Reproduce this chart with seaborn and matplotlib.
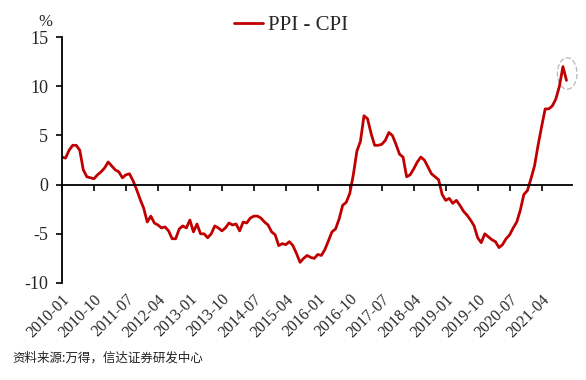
import pandas as pd
import matplotlib.pyplot as plt
import seaborn as sns
from matplotlib.patches import Ellipse

# PPI minus CPI, monthly, 2010-01 .. 2021-11 (percentage points)
spread_2010 = [2.8, 2.7, 3.5, 4.0, 4.0, 3.5, 1.5, 0.8, 0.7, 0.6, 1.0, 1.3]
spread_2011 = [1.7, 2.3, 1.9, 1.5, 1.3, 0.7, 1.0, 1.1, 0.4, -0.5, -1.5, -2.4]
spread_2012 = [-3.8, -3.2, -3.9, -4.1, -4.4, -4.3, -4.7, -5.5, -5.5, -4.5, -4.2, -4.4]
spread_2013 = [-3.6, -4.8, -4.0, -5.0, -5.0, -5.4, -5.0, -4.2, -4.4, -4.7, -4.4, -3.9]
spread_2014 = [-4.1, -4.0, -4.7, -3.8, -3.9, -3.4, -3.2, -3.2, -3.4, -3.8, -4.1, -4.8]
spread_2015 = [-5.1, -6.2, -6.0, -6.1, -5.8, -6.2, -7.0, -7.9, -7.5, -7.2, -7.4, -7.5]
spread_2016 = [-7.1, -7.2, -6.6, -5.7, -4.8, -4.5, -3.5, -2.1, -1.8, -0.9, 1.0, 3.4]
spread_2017 = [4.4, 7.0, 6.7, 5.2, 4.0, 4.0, 4.1, 4.5, 5.3, 5.0, 4.1, 3.1]
spread_2018 = [2.8, 0.8, 1.0, 1.6, 2.3, 2.8, 2.5, 1.8, 1.1, 0.8, 0.5, -1.0]
spread_2019 = [-1.6, -1.4, -1.9, -1.6, -2.1, -2.7, -3.1, -3.6, -4.2, -5.4, -5.9, -5.0]
spread_2020 = [-5.3, -5.6, -5.8, -6.4, -6.1, -5.5, -5.1, -4.4, -3.8, -2.6, -1.0, -0.6]
spread_2021 = [0.6, 1.9, 4.0, 5.9, 7.7, 7.7, 8.0, 8.7, 10.0, 12.0, 10.6]

y_ticks = [-10, -5, 0, 5, 10, 15]
tick_step = 9  # one label every 9 months

spread = (spread_2010 + spread_2011 + spread_2012 + spread_2013 + spread_2014 + spread_2015
          + spread_2016 + spread_2017 + spread_2018 + spread_2019 + spread_2020 + spread_2021)
months = pd.date_range('2010-01-01', periods=len(spread), freq='MS').strftime('%Y-%m')
df = pd.DataFrame({'idx': range(len(spread)), 'month': months, 'spread': spread})

sns.set_style('white')
plt.rcParams['font.family'] = ['Liberation Serif', 'Noto Sans CJK SC', 'DejaVu Sans']

fig = plt.figure(figsize=(5.86, 3.8), dpi=100)
ax = fig.add_axes([0.1058, 0.2553, 0.870, 0.647])

sns.lineplot(data=df, x='idx', y='spread', color='#C00000', linewidth=2.0,
             label='PPI - CPI', ax=ax, legend=False)

# dashed circle around the latest peak
peak_i = df['spread'].idxmax()
ax.add_patch(Ellipse((peak_i + 1.2, 11.3), 5.5, 3.2, fill=False, clip_on=False,
                     edgecolor='#BDBDBD', linestyle='--', linewidth=1.0))

ax.set_xlim(0, 143.5)
ax.set_ylim(-10, 15)
ax.set_yticks(y_ticks)
ax.set_yticklabels([str(v) for v in y_ticks], fontsize=13)
ax.tick_params(axis='y', direction='out', length=4, width=1.2, color='black', pad=6, left=True)

# x axis line sits at zero, labels go along the bottom
tick_pos = df['idx'][::tick_step].tolist()
tick_lab = df['month'][::tick_step].tolist()
ax.spines['bottom'].set_position(('data', 0))
ax.spines['bottom'].set_linewidth(1.3)
ax.spines['bottom'].set_color('black')
ax.spines['left'].set_linewidth(1.3)
ax.spines['left'].set_color('black')
ax.spines['top'].set_visible(False)
ax.spines['right'].set_visible(False)
ax.set_xticks(tick_pos)
ax.tick_params(axis='x', direction='out', length=4, width=1.2, color='black',
               bottom=True, labelbottom=False)

sec = ax.secondary_xaxis('bottom')
sec.set_xticks(tick_pos)
sec.set_xticklabels(tick_lab, rotation=45, ha='right', rotation_mode='anchor', fontsize=11.5)
sec.tick_params(length=0, pad=6)
sec.spines['bottom'].set_visible(False)

ax.set_xlabel('')
ax.set_ylabel('')

fig.text(45 / 586, 1 - 22 / 380, '%', fontsize=12, ha='center', va='center')
ax.legend(loc='center', bbox_to_anchor=(291 / 586, 1 - 25 / 380), bbox_transform=fig.transFigure,
          frameon=False, fontsize=15, handlelength=1.4, handletextpad=0.2, borderaxespad=0,
          borderpad=0)

fig.text(12 / 586, 1 - 358 / 380, '资料来源:万得，信达证券研发中心', fontsize=9,
         style='italic', family=['Noto Sans CJK SC', 'DejaVu Sans'], va='center', color='#222222')

plt.savefig('out.png', dpi=100)
